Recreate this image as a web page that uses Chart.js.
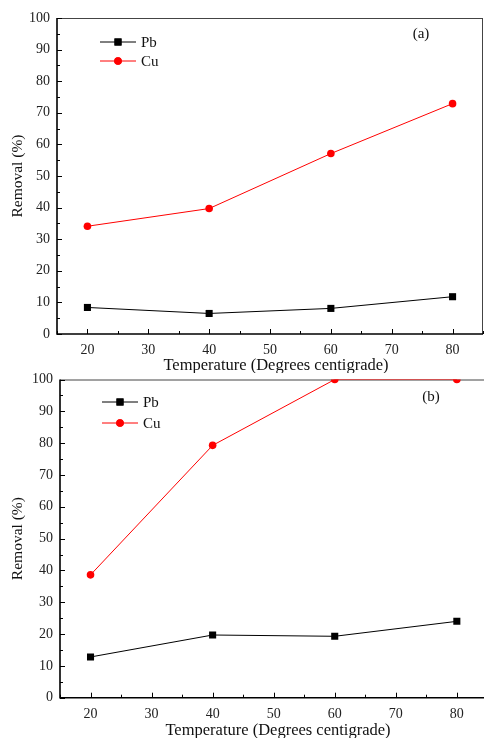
<!DOCTYPE html>
<html><head><meta charset="utf-8">
<script src="https://cdn.jsdelivr.net/npm/chart.js@4/dist/chart.umd.min.js"></script>
<style>
html,body{margin:0;padding:0;background:#fff;overflow:hidden;width:484px;height:738px}
canvas{position:absolute;left:0;display:block}
#ca{top:0}
#cb{top:370px}
</style></head><body>
<canvas id="ca" width="484" height="373"></canvas>
<canvas id="cb" width="484" height="368"></canvas>
<script>
const temperatures = [20, 40, 60, 80];
const pbA = [8.4, 6.5, 8.1, 11.8];
const cuA = [34.1, 39.7, 57.1, 72.9];
const pbB = [12.8, 19.7, 19.3, 24.0];
const cuB = [38.6, 79.3, 100, 100];
const xTicks = [20, 30, 40, 50, 60, 70, 80];
const yTicks = [0, 10, 20, 30, 40, 50, 60, 70, 80, 90, 100];
const seriesNames = ['Pb', 'Cu'];
const xTitle = 'Temperature (Degrees centigrade)';
const yTitle = 'Removal (%)';

const SERIF = '"Liberation Serif", "Times New Roman", serif';

const framePlugin = {
  id: 'frame',
  beforeDatasetsDraw(chart, args, opts) {
    const {ctx, chartArea: a, scales} = chart;
    ctx.save();
    ctx.strokeStyle = '#444'; ctx.lineWidth = 1;
    ctx.beginPath();
    ctx.moveTo(a.left, a.top + 0.5); ctx.lineTo(a.right, a.top + 0.5);
    if (opts.rightBorder) { ctx.moveTo(a.right - 0.5, a.top); ctx.lineTo(a.right - 0.5, a.bottom); }
    ctx.stroke();
    ctx.strokeStyle = '#000'; ctx.lineWidth = 1;
    ctx.beginPath();
    const xs = scales.x, ys = scales.y;
    for (let v = Math.ceil(xs.min / 5) * 5; v <= xs.max; v += 5) {
      const px = Math.round(xs.getPixelForValue(v)) + 0.5;
      const len = (v % 10 === 0) ? 5 : 3;
      ctx.moveTo(px, a.bottom); ctx.lineTo(px, a.bottom - len);
    }
    for (let v = Math.ceil(ys.min / 5) * 5; v <= ys.max; v += 5) {
      const py = Math.round(ys.getPixelForValue(v)) + 0.5;
      const len = (v % 10 === 0) ? 5 : 3;
      ctx.moveTo(a.left, py); ctx.lineTo(a.left + len, py);
    }
    ctx.stroke();
    ctx.lineWidth = 1.6;
    ctx.beginPath();
    ctx.moveTo(a.left, a.top); ctx.lineTo(a.left, a.bottom);
    ctx.lineTo(a.right, a.bottom);
    ctx.stroke();
    ctx.restore();
  },
  afterDraw(chart, args, opts) {
    const {ctx, chartArea: a} = chart;
    ctx.save();
    chart.data.datasets.forEach((ds, i) => {
      const y = a.top + opts.legendTop + i * opts.legendGap;
      const x0 = a.left + opts.legendLeft, x1 = x0 + 36;
      ctx.strokeStyle = ds.borderColor; ctx.lineWidth = 1;
      ctx.beginPath(); ctx.moveTo(x0, y); ctx.lineTo(x1, y); ctx.stroke();
      ctx.fillStyle = ds.pointBackgroundColor;
      Chart.helpers.drawPoint(ctx, {pointStyle: ds.pointStyle, radius: ds.pointRadius, borderWidth: 0}, (x0 + x1) / 2, y);
      ctx.fill();
      ctx.fillStyle = '#111';
      ctx.font = '15px ' + SERIF;
      ctx.textAlign = 'left'; ctx.textBaseline = 'middle';
      ctx.fillText(ds.label, x1 + 5, y + 1);
    });
    ctx.font = '15px ' + SERIF;
    ctx.textAlign = 'center'; ctx.textBaseline = 'middle';
    ctx.fillStyle = '#111';
    ctx.fillText(opts.panelLabel, a.left + opts.labelFromLeft, a.top + opts.labelTop);
    ctx.font = '16.5px ' + SERIF;
    ctx.fillText(xTitle, (a.left + a.right) / 2 + opts.xTitleShift, a.bottom + opts.xTitleGap);
    ctx.restore();
  }
};

function makePanel(id, pb, cu, o) {
  return new Chart(document.getElementById(id), {
    type: 'line',
    data: {
      datasets: [
        {label: seriesNames[0], data: temperatures.map((t, i) => ({x: t, y: pb[i]})),
         borderColor: '#000', backgroundColor: '#000', pointBackgroundColor: '#000',
         pointBorderColor: '#000', borderWidth: 1, pointStyle: 'rect', pointRadius: 5, pointBorderWidth: 0, clip: 0},
        {label: seriesNames[1], data: temperatures.map((t, i) => ({x: t, y: cu[i]})),
         borderColor: '#ff0000', backgroundColor: '#ff0000', pointBackgroundColor: '#ff0000',
         pointBorderColor: '#ff0000', borderWidth: 1, pointStyle: 'circle', pointRadius: 3.8, pointBorderWidth: 0, clip: 0}
      ]
    },
    plugins: [framePlugin],
    options: {
      responsive: false, animation: false, devicePixelRatio: 1,
      layout: {autoPadding: false, padding: {left: 0, top: o.top, right: o.right, bottom: 0}},
      plugins: {
        legend: {display: false}, tooltip: {enabled: false},
        frame: o
      },
      scales: {
        x: {
          type: 'linear', min: 15, max: o.xMax,
          afterBuildTicks: s => { s.ticks = xTicks.map(v => ({value: v})); },
          afterFit: s => { s.height = o.xHeight; s.paddingLeft = 0; s.paddingRight = 0; },
          grid: {display: false, drawTicks: false},
          border: {display: false},
          ticks: {padding: 8, color: '#222', font: {family: SERIF, size: 14}, maxRotation: 0},
          title: {display: false}
        },
        y: {
          type: 'linear', min: 0, max: 100,
          afterBuildTicks: s => { s.ticks = yTicks.map(v => ({value: v})); },
          afterFit: s => { s.width = o.yWidth; s.paddingTop = 0; s.paddingBottom = 0; },
          grid: {display: false, drawTicks: false},
          border: {display: false},
          ticks: {padding: 7, color: '#222', font: {family: SERIF, size: 14}},
          title: {display: true, text: yTitle, color: '#111', font: {family: SERIF, size: 15.5}, padding: {top: 9, bottom: 0}}
        }
      }
    }
  });
}

makePanel('ca', pbA, cuA, {top: 18, right: 1, xMax: 85, xHeight: 39, yWidth: 57, rightBorder: true,
  legendLeft: 43, legendTop: 24, legendGap: 19, panelLabel: '(a)', labelFromLeft: 364, labelTop: 16,
  xTitleShift: 6, xTitleGap: 32});
makePanel('cb', pbB, cuB, {top: 9.5, right: 0, xMax: 84.45, xHeight: 40.3, yWidth: 60, rightBorder: false,
  legendLeft: 42, legendTop: 22.5, legendGap: 21, panelLabel: '(b)', labelFromLeft: 371, labelTop: 18,
  xTitleShift: 6, xTitleGap: 33});
</script>
</body></html>
